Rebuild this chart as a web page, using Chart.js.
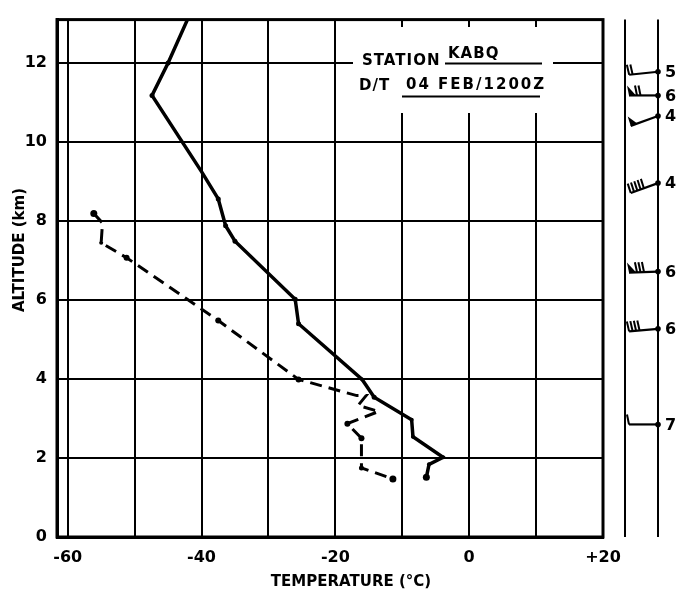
<!DOCTYPE html>
<html>
<head>
<meta charset="utf-8">
<script src="https://cdn.jsdelivr.net/npm/chart.js@4/dist/chart.umd.min.js"></script>
<style>
  html, body { margin: 0; padding: 0; background: #fff; }
  canvas { display: block; }
</style>
</head>
<body>
<canvas id="sounding" width="679" height="596"></canvas>
<script>
// temperature profile (solid)
var tempC   = [-42.1, -45.0, -47.4, -40.0, -37.5, -36.4, -35.0, -26.0, -25.5, -16.0, -14.2, -8.6, -8.4, -3.9, -6.0, -6.4];
var tempAlt = [13.1, 12.0, 11.18, 9.25, 8.56, 7.88, 7.49, 6.02, 5.40, 3.99, 3.54, 2.97, 2.54, 2.02, 1.84, 1.51];

// dew point profile (dashed)
var dewC   = [-56.1, -54.8, -55.0, -51.2, -37.5, -25.5, -16.8, -15.4, -16.6, -13.5, -18.2, -16.1, -16.1, -11.4];
var dewAlt = [8.19, 7.95, 7.45, 7.07, 5.48, 3.99, 3.58, 3.58, 3.33, 3.18, 2.87, 2.50, 1.75, 1.47];

// winds column on the right
var windAlt   = [11.78, 11.18, 10.66, 8.96, 6.72, 5.27, 2.85];
var windLabel = ['5', '6', '4', '4', '6', '6', '7'];
var windTilt  = [6, 0, 20, 20, 2, 5, 0];
var windFlags = [0, 1, 1, 0, 1, 0, 0];
var windBarbs = [2, 2, 0, 5, 3, 4, 1];

var xTicks = [-60, -50, -40, -30, -20, -10, 0, 10, 20];
var xTickText = ['-60', '', '-40', '', '-20', '', '0', '', '+20'];
var yTicks = [0, 2, 4, 6, 8, 10, 12];

var station = 'KABQ';
var dateTime = '04 FEB/1200Z';

var FONT = "'DejaVu Sans', sans-serif";

function pts(xs, ys) {
    return xs.map(function (x, i) { return { x: x, y: ys[i] }; });
}

var stationBox = {
    id: 'stationBox',
    beforeDatasetsDraw: function (chart) {
        var ctx = chart.ctx;
        ctx.save();
        ctx.fillStyle = '#fff';
        ctx.fillRect(353, 27, 200, 86);
        ctx.fillStyle = '#000';
        ctx.font = 'bold 15px ' + FONT;
        ctx.textBaseline = 'middle';
        ctx.letterSpacing = '1px';
        ctx.fillText('STATION', 362, 61);
        ctx.fillText(station, 448, 54);
        ctx.fillText('D/T', 359, 86);
        ctx.letterSpacing = '2px';
        ctx.fillText(dateTime, 406, 85);
        ctx.letterSpacing = '0px';
        ctx.lineWidth = 2;
        ctx.beginPath();
        ctx.moveTo(445, 63.5); ctx.lineTo(542, 63.5);
        ctx.moveTo(402, 96.5); ctx.lineTo(540, 96.5);
        ctx.stroke();
        ctx.restore();
    }
};

var frameAndWinds = {
    id: 'frameAndWinds',
    afterDraw: function (chart) {
        var ctx = chart.ctx;
        var a = chart.chartArea;
        var ys = chart.scales.y;
        ctx.save();
        ctx.strokeStyle = '#000';
        ctx.fillStyle = '#000';
        ctx.lineWidth = 3;
        ctx.strokeRect(a.left, a.top, a.right - a.left, a.bottom - a.top);

        // wind column lines
        var xl = 625, xr = 658;
        ctx.lineWidth = 2;
        ctx.beginPath();
        ctx.moveTo(xl, a.top); ctx.lineTo(xl, a.bottom);
        ctx.moveTo(xr, a.top); ctx.lineTo(xr, a.bottom);
        ctx.stroke();

        windAlt.forEach(function (alt, i) {
            var oy = ys.getPixelForValue(alt);
            var t = windTilt[i] * Math.PI / 180;
            var dx = -Math.cos(t), dy = Math.sin(t);
            var nx = -Math.sin(t) * 0.3 - 0.2, ny = -Math.cos(t);
            var L = 29;
            var ex = xr + dx * L, ey = oy + dy * L;
            ctx.lineWidth = 2.2;
            ctx.beginPath();
            ctx.moveTo(xr, oy); ctx.lineTo(ex, ey);
            ctx.stroke();
            var pos = 0;
            for (var f = 0; f < windFlags[i]; f++) {
                ctx.beginPath();
                ctx.moveTo(ex - dx * pos, ey - dy * pos);
                ctx.lineTo(ex - dx * pos + nx * 10, ey - dy * pos + ny * 10);
                ctx.lineTo(ex - dx * (pos + 7), ey - dy * (pos + 7));
                ctx.closePath();
                ctx.fill();
                pos += 8;
            }
            for (var b = 0; b < windBarbs[i]; b++) {
                var bx = ex - dx * pos, by = ey - dy * pos;
                ctx.lineWidth = 2;
                ctx.beginPath();
                ctx.moveTo(bx, by);
                ctx.lineTo(bx + nx * 10, by + ny * 10);
                ctx.stroke();
                pos += 3.5;
            }
            ctx.beginPath();
            ctx.arc(xr, oy, 2.8, 0, Math.PI * 2);
            ctx.fill();
            ctx.font = 'bold 16px ' + FONT;
            ctx.textBaseline = 'middle';
            ctx.textAlign = 'left';
            ctx.fillText(windLabel[i], xr + 7, oy + 1);
        });

        // axis titles
        ctx.font = 'bold 15px ' + FONT;
        ctx.textAlign = 'center';
        ctx.textBaseline = 'middle';
        ctx.fillText('TEMPERATURE (°C)', 351, 582);
        ctx.translate(20, 250);
        ctx.rotate(-Math.PI / 2);
        ctx.fillText('ALTITUDE (km)', 0, 0);
        ctx.restore();
    }
};

var ctx = document.getElementById('sounding').getContext('2d');
var chart = new Chart(ctx, {
    type: 'scatter',
    data: {
        datasets: [
            {
                label: 'Temperature',
                data: pts(tempC, tempAlt),
                showLine: true,
                borderColor: '#000',
                borderWidth: 3.5,
                pointBackgroundColor: '#000',
                pointBorderWidth: 0,
                pointRadius: [0, 2.5, 2.5, 0, 2.5, 2.5, 2.5, 2.5, 2.5, 2, 2.5, 2, 2, 2, 2, 3.5]
            },
            {
                label: 'Dew point',
                data: pts(dewC, dewAlt),
                showLine: true,
                borderColor: '#000',
                borderWidth: 3,
                borderDash: [12, 7],
                pointBackgroundColor: '#000',
                pointBorderWidth: 0,
                pointRadius: [3.5, 0, 2, 3, 3, 3, 0, 0, 0, 0, 3, 3, 2.5, 3.5]
            }
        ]
    },
    options: {
        responsive: false,
        animation: false,
        layout: { padding: { top: 10, right: 76, left: 0, bottom: 0 } },
        plugins: {
            legend: { display: false },
            tooltip: { enabled: false }
        },
        scales: {
            x: {
                type: 'linear',
                min: -61.6,
                max: 20,
                afterBuildTicks: function (scale) {
                    scale.ticks = xTicks.map(function (v) { return { value: v }; });
                },
                afterFit: function (scale) { scale.height = 59; },
                ticks: {
                    color: '#000',
                    padding: 11,
                    maxRotation: 0,
                    autoSkip: false,
                    font: { family: FONT, size: 16, weight: 'bold' },
                    callback: function (v) {
                        var i = xTicks.indexOf(v);
                        return i >= 0 ? xTickText[i] : '';
                    }
                },
                grid: { color: '#000', lineWidth: 2, drawTicks: false },
                border: { display: true, color: '#000', width: 3 }
            },
            y: {
                type: 'linear',
                min: 0,
                max: 13.1,
                afterBuildTicks: function (scale) {
                    scale.ticks = yTicks.map(function (v) { return { value: v }; });
                },
                afterFit: function (scale) { scale.width = 57; },
                ticks: {
                    color: '#000',
                    padding: 10,
                    autoSkip: false,
                    font: { family: FONT, size: 16, weight: 'bold' }
                },
                grid: { color: '#000', lineWidth: 2, drawTicks: false },
                border: { display: true, color: '#000', width: 3 }
            }
        }
    },
    plugins: [stationBox, frameAndWinds]
});
</script>
</body>
</html>
